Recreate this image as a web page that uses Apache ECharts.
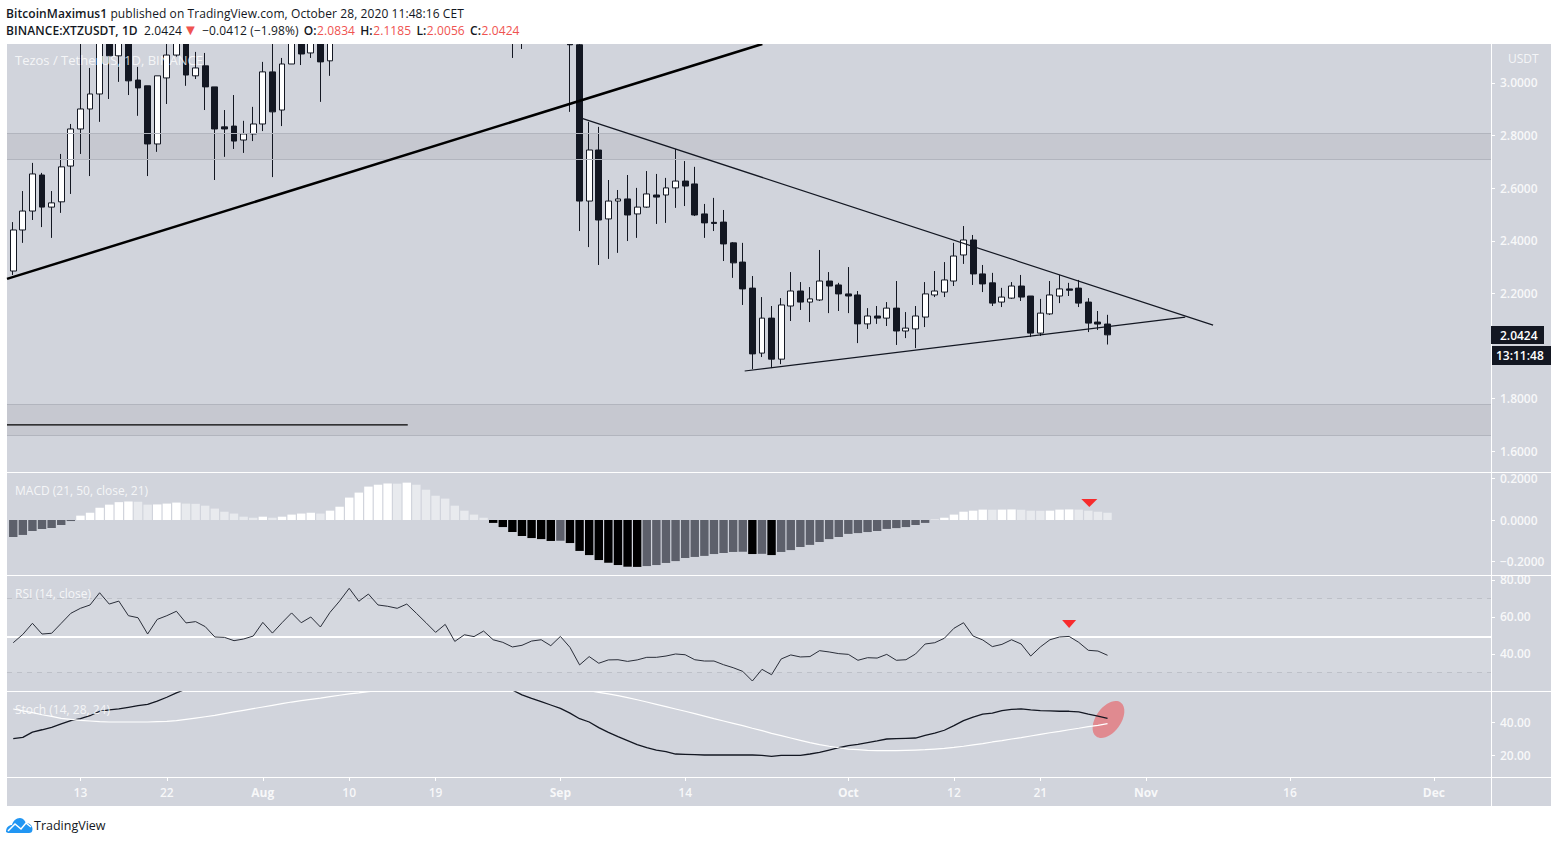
<!DOCTYPE html>
<html>
<head>
<meta charset="utf-8">
<title>XTZUSDT</title>
<script src="https://cdn.jsdelivr.net/npm/echarts@6/dist/echarts.min.js"></script>
<style>
html, body { margin: 0; padding: 0; background: #fff; }
#chart { position: absolute; left: 0; top: 0; width: 1562px; height: 843px; }
.head { position: absolute; left: 6px; font: 12px "Open Sans", sans-serif; color: #131722; white-space: nowrap; letter-spacing: .08px; }
.head b { font-weight: 600; }
.head i { font-style: normal; color: #ef5350; margin-left: .5px; }
.head .arrow { font-size: 15px; line-height: 12px; margin: 0 1px; }
.head .gap { margin-left: 2px; }
#logo { position: absolute; left: 6px; top: 817px; }
</style>
</head>
<body>
<div id="chart"></div>
<div class="head" style="top:5px"><b>BitcoinMaximus1</b> published on TradingView.com, October 28, 2020 11:48:16 CET</div>
<div class="head" style="top:22px"><b>BINANCE:XTZUSDT, 1D</b>&nbsp; 2.0424<i class="arrow">▼</i> −0.0412 (−1.98%) <b class="gap">O:</b><i>2.0834</i> <b class="gap">H:</b><i>2.1185</i> <b class="gap">L:</b><i>2.0056</i> <b class="gap">C:</b><i>2.0424</i></div>
<svg id="logo" width="27" height="17" viewBox="0 0 27 17">
    <path d="M0 15 C0 10 3 8 6 8 C7 4 10 1 14 1 C17 1 19 4 20 6 C24 6 26.500 9 26.500 12 C26.500 15 25 16 23 16 L2 16 Z" fill="#2196f3"/>
    <path d="M2 14 L9 7 L15 12 L20 6 L25 10" fill="none" stroke="#fff" stroke-width="1.500"/>
</svg>
<script>
// day numbers count from Jul 13 2020, first candle is Jul 6
var firstDay = -7;

var opens = [
    2.285,2.441,2.513,2.650,2.528,2.548,2.684,2.825,2.901,2.958,
    3.20,3.103,3.22,3.011,2.989,2.768,3.019,3.106,3.20,3.027,
    3.065,2.985,2.833,2.836,2.783,2.806,2.844,3.042,2.897,3.072,
    3.20,3.114,3.22,3.084,3.24,3.30,3.42,3.36,3.55,3.78,
    3.95,3.84,3.90,3.86,3.92,3.70,3.60,3.48,3.52,3.40,
    3.46,3.38,3.50,3.34,3.40,3.52,3.62,3.70,3.66,3.145,
    2.551,2.745,2.483,2.551,2.559,2.502,2.528,2.574,2.574,2.601,
    2.627,2.616,2.502,2.470,2.471,2.392,2.319,2.220,1.973,2.106,
    1.950,2.152,2.209,2.167,2.175,2.247,2.232,2.198,2.194,2.084,
    2.114,2.106,2.144,2.057,2.065,2.110,2.194,2.205,2.247,2.346,
    2.403,2.274,2.240,2.167,2.182,2.228,2.190,2.049,2.122,2.190,
    2.217,2.220,2.167,2.091,2.0834
];
var closes = [
    2.441,2.513,2.654,2.528,2.544,2.681,2.825,2.901,2.958,3.20,
    3.103,3.22,3.008,2.981,2.768,3.027,3.106,3.20,3.030,3.057,
    2.985,2.825,2.825,2.779,2.806,2.844,3.042,2.890,3.072,3.20,
    3.110,3.20,3.080,3.24,3.30,3.42,3.36,3.55,3.78,3.95,
    3.84,3.90,3.86,3.92,3.70,3.60,3.48,3.52,3.40,3.46,
    3.38,3.50,3.34,3.40,3.52,3.62,3.70,3.66,3.145,2.551,
    2.745,2.479,2.551,2.559,2.498,2.528,2.578,2.566,2.601,2.627,
    2.608,2.498,2.468,2.466,2.388,2.316,2.217,1.970,2.106,1.950,
    2.156,2.209,2.167,2.179,2.247,2.228,2.198,2.190,2.084,2.114,
    2.106,2.144,2.057,2.068,2.114,2.198,2.209,2.251,2.342,2.403,
    2.274,2.236,2.163,2.186,2.228,2.186,2.049,2.125,2.194,2.217,
    2.212,2.163,2.087,2.0834,2.0424
];
var lows = [
    2.270,2.392,2.479,2.452,2.411,2.506,2.578,2.730,2.646,2.852,
    2.939,3.004,2.954,2.875,2.646,2.738,2.920,3.10,2.989,3.015,
    2.897,2.631,2.719,2.749,2.734,2.779,2.817,2.642,2.836,3.072,
    3.068,3.095,2.928,3.027,3.18,3.22,3.25,3.30,3.48,3.70,
    3.72,3.72,3.74,3.80,3.62,3.48,3.38,3.42,3.32,3.34,
    3.30,3.30,3.095,3.129,3.32,3.44,3.50,3.48,2.890,2.437,
    2.376,2.308,2.331,2.354,2.399,2.411,2.525,2.464,2.468,2.525,
    2.532,2.494,2.411,2.437,2.323,2.259,2.156,1.912,1.958,1.916,
    1.931,2.095,2.137,2.091,2.171,2.125,2.133,2.125,2.011,2.065,
    2.084,2.076,2.004,2.030,1.992,2.072,2.186,2.186,2.228,2.312,
    2.232,2.205,2.152,2.148,2.179,2.171,2.034,2.038,2.118,2.163,
    2.190,2.148,2.053,2.061,2.0056
];
var highs = [
    2.471,2.589,2.696,2.658,2.589,2.730,2.844,3.18,3.057,3.28,
    3.26,3.30,3.27,3.061,2.989,3.027,3.20,3.25,3.22,3.118,
    3.114,2.985,2.897,2.954,2.856,2.909,3.080,3.22,3.095,3.30,
    3.28,3.25,3.30,3.30,3.38,3.50,3.52,3.62,3.86,4.05,
    4.02,3.98,3.99,4.08,3.98,3.76,3.66,3.62,3.58,3.54,
    3.50,3.58,3.56,3.48,3.60,3.70,3.80,3.80,3.72,3.16,
    2.852,2.833,2.631,2.593,2.650,2.601,2.665,2.654,2.639,2.749,
    2.703,2.681,2.540,2.563,2.517,2.395,2.392,2.266,2.186,2.152,
    2.182,2.281,2.243,2.224,2.365,2.281,2.240,2.300,2.209,2.144,
    2.152,2.167,2.247,2.129,2.152,2.243,2.285,2.319,2.392,2.456,
    2.422,2.308,2.278,2.221,2.243,2.270,2.190,2.179,2.247,2.270,
    2.240,2.251,2.182,2.133,2.1185
];

var macdHist = [
    -0.082,-0.072,-0.053,-0.043,-0.039,-0.024,-0.005,0.021,0.035,0.059,
    0.074,0.086,0.089,0.088,0.074,0.075,0.079,0.084,0.079,0.078,
    0.069,0.055,0.040,0.031,0.016,0.011,0.016,0.011,0.016,0.026,
    0.031,0.035,0.031,0.045,0.064,0.108,0.132,0.161,0.170,0.176,
    0.175,0.180,0.170,0.146,0.117,0.103,0.069,0.045,0.026,0.011,
    -0.014,-0.034,-0.058,-0.077,-0.087,-0.092,-0.101,-0.100,-0.111,-0.149,
    -0.169,-0.193,-0.206,-0.217,-0.225,-0.226,-0.222,-0.217,-0.207,-0.198,
    -0.183,-0.178,-0.173,-0.164,-0.159,-0.154,-0.153,-0.164,-0.163,-0.169,
    -0.154,-0.145,-0.130,-0.120,-0.106,-0.092,-0.082,-0.067,-0.063,-0.058,
    -0.053,-0.043,-0.039,-0.034,-0.024,-0.014,0.002,0.011,0.026,0.040,
    0.045,0.050,0.0495,0.050,0.051,0.050,0.045,0.0445,0.045,0.050,
    0.051,0.050,0.045,0.040,0.035
];

var rsiLine = [
    46.1,50.6,56.6,50.8,51.2,56.6,62.0,64.7,66.5,73.1,
    67.0,68.6,60.7,59.6,50.8,58.7,60.7,63.1,56.8,57.5,
    54.8,49.2,49.0,47.2,48.1,49.7,57.1,51.3,56.9,62.2,
    56.9,60.0,54.6,62.5,68.6,75.5,68.5,72.4,66.5,65.8,
    64.7,67.0,62.0,56.9,51.7,56.0,46.8,50.4,49.4,52.4,
    47.7,46.3,43.8,44.7,47.0,47.7,44.5,49.5,43.6,34.1,
    38.6,35.0,36.8,36.9,36.0,36.8,38.2,38.2,38.9,40.0,
    39.6,36.9,36.2,36.2,34.2,32.6,30.6,25.4,31.7,28.8,
    37.3,39.5,38.4,38.6,41.8,41.1,40.2,39.8,36.6,38.0,
    37.8,39.8,36.6,36.9,40.0,45.4,46.1,48.5,53.9,56.9,
    49.7,47.6,44.0,45.2,47.7,45.4,38.9,43.8,47.7,49.2,
    49.5,46.3,42.0,41.6,39.3
];

var stochK = [
    29.9,30.7,33.9,35.3,36.8,38.8,40.8,42.0,43.8,46.5,
    47.3,47.9,48.9,49.9,50.7,52.7,55.0,57.6,60,61,
    62,63,65,66,68,70,72,74,76,78,
    80,82,84,85,86,87,88,88,88,87,
    86,85,84,82,80,78,75,72,69,66,
    63,60,59.4,56.4,54.3,52.3,50.3,48.3,45.4,42.0,
    40.0,36.6,33.7,31.1,28.7,26.3,24.4,23.0,22.0,20.6,
    20.4,20.2,20.0,20.0,20.0,20.0,20.0,20.0,19.8,19.2,
    19.8,19.8,19.8,20.6,21.6,23.0,24.4,25.7,26.5,27.5,
    28.5,29.7,29.9,30.1,30.3,31.9,33.3,35.0,37.8,40.8,
    43.0,44.8,45.4,46.9,47.7,47.9,47.3,46.9,46.7,46.5,
    46.5,46.1,44.8,43.6,42.2
];
var stochD = [
    47.9,46.7,45.7,44.4,43.4,42.2,41.6,41.0,40.6,40.2,
    40.0,40.0,40.0,40.0,40.0,40.2,40.4,40.8,41.6,42.4,
    43.2,44.0,45.1,46.1,47.1,48.1,49.1,50.1,51.1,52.1,
    52.9,53.7,54.5,55.4,56.2,57.0,57.6,58.4,59,60,
    61,62,63,64,65,66,67,68,69,69,
    70,70,70,69,69,68,67,65,63,61,
    59,58.0,57.0,56.0,54.8,53.5,52.1,50.7,49.3,47.9,
    46.5,45.1,43.6,42.0,40.6,39.2,37.8,36.2,34.8,33.1,
    31.7,30.3,28.9,27.5,26.3,25.3,24.4,23.6,23.2,22.8,
    22.6,22.6,22.6,22.8,23.0,23.2,23.6,24.0,24.6,25.3,
    26.1,26.9,27.9,28.7,29.7,30.5,31.5,32.5,33.5,34.3,
    35.3,36.2,37.2,38.0,39.0
];

// [day, price] ends of the drawn lines
var trendThick = [[-7.65, 2.255], [71.04, 3.148]];
var trendUpper = [[52.1, 2.867], [118, 2.0795]];
var trendLower = [[69.2, 1.905], [115.1, 2.110]];
var supportLine = [[-7.65, 1.7], [34.1, 1.7]];
var zones = [[2.81, 2.711], [1.776, 1.658]];
var macdArrow = [105.1, 0.082];
var rsiArrow = [103, 56.2];

var tickDays = [0, 9, 19, 28, 37, 50, 63, 80, 91, 100, 111, 126, 141];
var tickLabels = ['13', '22', 'Aug', '10', '19', 'Sep', '14', 'Oct', '12', '21', 'Nov', '16', 'Dec'];
var monthLabels = ['Aug', 'Sep', 'Oct', 'Nov', 'Dec'];
var priceTicks = [1.6, 1.8, 2.2, 2.4, 2.6, 2.8, 3.0];
var macdTicks = [-0.2, 0, 0.2];
var rsiTicks = [40, 60, 80];
var stochTicks = [20, 40];

var DARK = '#131722', PANE = '#d1d4dc', TEXT = 'rgba(255,255,255,.85)';
var FONT = '"Open Sans", sans-serif';

function days(arr) {
    return arr.map(function(v, i) { return [firstDay + i, v]; });
}

function macdColor(i) {
    var v = macdHist[i], prev = i > 0 ? macdHist[i - 1] : v - 1;
    if (v >= 0) { return v > prev ? '#ffffff' : '#e8eaee'; }
    return v > prev ? '#5d606b' : '#000000';
}

function xAxisFor(index, showLabels) {
    return {
        type: 'value', gridIndex: index, min: -7.65, max: 146.95,
        splitLine: {show: false},
        axisLine: {show: false, onZero: false},
        axisTick: {show: showLabels, length: 4, customValues: tickDays, lineStyle: {color: '#fff'}},
        axisLabel: {
            show: showLabels,
            customValues: tickDays,
            margin: 9,
            fontFamily: FONT,
            fontSize: 12,
            color: TEXT,
            fontWeight: 600,
            formatter: function(v) {
                var name = tickLabels[tickDays.indexOf(v)];
                return monthLabels.indexOf(name) >= 0 ? '{m|' + name + '}' : name;
            },
            rich: {m: {fontFamily: FONT, fontSize: 12, fontWeight: 700, color: TEXT}}
        }
    };
}

function yAxisFor(index, min, max, ticks, digits) {
    return {
        type: 'value', gridIndex: index, position: 'right', min: min, max: max, scale: true,
        splitLine: {show: false},
        axisLine: {show: false, onZero: false},
        axisTick: {show: true, length: 4, customValues: ticks, lineStyle: {color: '#fff'}},
        axisLabel: {
            customValues: ticks,
            margin: 9,
            fontFamily: FONT,
            fontSize: 12,
            fontWeight: 600,
            color: TEXT,
            formatter: function(v) { return v.toFixed(digits).replace('-', '−'); }
        }
    };
}

function thinLine(name, data, axis, color, width, z) {
    return {
        name: name, type: 'line', xAxisIndex: axis, yAxisIndex: axis, data: data,
        showSymbol: false, silent: true, z: z || 5,
        lineStyle: {color: color, width: width}
    };
}

function paneText(text, x, y, size) {
    return {
        type: 'text', x: x, y: y, z: 20, silent: true,
        style: {text: text, fill: 'rgba(255,255,255,.8)', font: (size || 12) + 'px ' + FONT, textVerticalAlign: 'middle'}
    };
}

function sep(x1, y1, x2, y2) {
    return {type: 'line', z: 1, silent: true, shape: {x1: x1, y1: y1, x2: x2, y2: y2}, style: {stroke: '#fff', lineWidth: 1}};
}

function priceBox(x, y, w, h, text, tx) {
    return [
        {type: 'rect', z: 30, silent: true, shape: {x: x, y: y, width: w, height: h}, style: {fill: DARK}},
        {type: 'text', x: tx, y: y + h / 2, z: 31, silent: true,
            style: {text: text, fill: '#fff', font: '600 12px ' + FONT, textVerticalAlign: 'middle'}}
    ];
}

var myChart = echarts.init(document.getElementById('chart'), null, {renderer: 'svg'});

var candles = opens.map(function(o, i) {
    return [firstDay + i, o, closes[i], lows[i], highs[i]];
});

var graphics = [
    {type: 'rect', z: -1, silent: true, shape: {x: 7, y: 44, width: 1544, height: 762}, style: {fill: PANE}},
    // candles running above the price pane stop at its edge
    {type: 'rect', z: 40, silent: true, shape: {x: 0, y: -400, width: 1562, height: 444}, style: {fill: '#fff'}},
    sep(7, 472.5, 1551, 472.5), sep(7, 575.5, 1551, 575.5), sep(7, 691.5, 1551, 691.5), sep(7, 777.5, 1551, 777.5),
    sep(1491.5, 44, 1491.5, 806),
    // red circle round the stoch cross
    {type: 'ellipse', z: 1, silent: true, x: 1108.5, y: 719.5, rotation: -0.62,
        shape: {cx: 0, cy: 0, rx: 12.5, ry: 21}, style: {fill: '#e08a90'}},
    paneText('Tezos / TetherUS, 1D, BINANCE', 15, 60, 13),
    paneText('MACD (21, 50, close, 21)', 15, 490),
    paneText('RSI (14, close)', 15, 593),
    paneText('Stoch (14, 28, 24)', 15, 709),
    paneText('USDT', 1508, 58),
    {type: 'text', x: 34, y: 825, z: 5, silent: true,
        style: {text: 'TradingView', fill: DARK, font: '12.500px ' + FONT, textVerticalAlign: 'middle'}}
].concat(priceBox(1491, 326, 53, 18, '2.0424', 1500), priceBox(1492, 346, 59, 19, '13:11:48', 1496));

myChart.setOption({
    animation: false,
    backgroundColor: 'transparent',
    grid: [
        {left: 7, width: 1484, top: 44, height: 428},
        {left: 7, width: 1484, top: 473, height: 102},
        {left: 7, width: 1484, top: 576, height: 115},
        {left: 7, width: 1484, top: 692, height: 85}
    ],
    xAxis: [xAxisFor(0, false), xAxisFor(1, false), xAxisFor(2, false), xAxisFor(3, true)],
    yAxis: [
        yAxisFor(0, 1.521, 3.148, priceTicks, 4),
        yAxisFor(1, -0.265, 0.2265, macdTicks, 4),
        yAxisFor(2, 20, 82.16, rsiTicks, 2),
        yAxisFor(3, 6.67, 58.18, stochTicks, 2)
    ],
    graphic: graphics,
    series: [
        {
            name: 'XTZUSDT', type: 'candlestick', xAxisIndex: 0, yAxisIndex: 0, data: candles,
            barWidth: 6.4, silent: true, z: 3,
            itemStyle: {color: '#ffffff', color0: DARK, borderColor: DARK, borderColor0: DARK, borderWidth: 1}
        },
        {
            name: 'zones', type: 'line', xAxisIndex: 0, yAxisIndex: 0, data: [], silent: true, z: 4,
            markArea: {
                silent: true,
                itemStyle: {color: 'rgba(120,123,134,.13)'},
                data: zones.map(function(zone) { return [{yAxis: zone[0]}, {yAxis: zone[1]}]; })
            },
            markLine: {
                silent: true, symbol: 'none', animation: false, label: {show: false},
                lineStyle: {color: '#b2b5be', type: 'solid', width: 1},
                data: [{yAxis: zones[0][0]}, {yAxis: zones[0][1]}, {yAxis: zones[1][0]}, {yAxis: zones[1][1]}]
            }
        },
        thinLine('trend', trendThick, 0, '#000', 2.5),
        thinLine('upper', trendUpper, 0, DARK, 1.2),
        thinLine('lower', trendLower, 0, DARK, 1.2),
        thinLine('support', supportLine, 0, '#000', 1.3),
        {
            name: 'MACD', type: 'bar', xAxisIndex: 1, yAxisIndex: 1, data: days(macdHist), barWidth: 8.4, silent: true,
            itemStyle: {color: function(p) { return macdColor(p.dataIndex); }}
        },
        {
            name: 'macdArrow', type: 'scatter', xAxisIndex: 1, yAxisIndex: 1, data: [macdArrow], silent: true,
            symbol: 'triangle', symbolRotate: 180, symbolSize: [16, 8], itemStyle: {color: '#ff0000'}
        },
        {
            name: 'RSI', type: 'line', xAxisIndex: 2, yAxisIndex: 2, data: days(rsiLine), showSymbol: false, silent: true, z: 5,
            lineStyle: {color: '#2a2e39', width: 1},
            markArea: {
                silent: true,
                itemStyle: {color: 'rgba(255,255,255,.1)'},
                data: [[{yAxis: 70}, {yAxis: 30}]]
            },
            markLine: {
                silent: true, symbol: 'none', animation: false, label: {show: false},
                data: [
                    {yAxis: 70, lineStyle: {color: '#bdc0c8', type: [5, 5], width: 1}},
                    {yAxis: 30, lineStyle: {color: '#bdc0c8', type: [5, 5], width: 1}},
                    {yAxis: 49.2, lineStyle: {color: '#fff', type: 'solid', width: 2}}
                ]
            }
        },
        {
            name: 'rsiArrow', type: 'scatter', xAxisIndex: 2, yAxisIndex: 2, data: [rsiArrow], silent: true,
            symbol: 'triangle', symbolRotate: 180, symbolSize: [14, 8], itemStyle: {color: '#ff0000'}
        },
        thinLine('stochK', days(stochK), 3, DARK, 1.3),
        thinLine('stochD', days(stochD), 3, '#fff', 1.2)
    ]
});
</script>
</body>
</html>
